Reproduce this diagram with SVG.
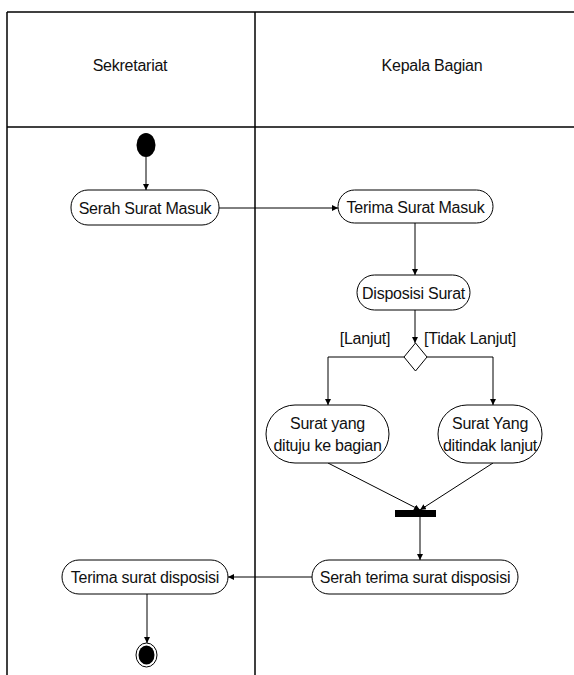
<svg xmlns="http://www.w3.org/2000/svg" width="574" height="675" viewBox="0 0 574 675">
<defs>
<marker id="arr" viewBox="0 0 10 10" refX="10" refY="5" markerWidth="6" markerHeight="6" orient="auto" markerUnits="userSpaceOnUse">
<path d="M0,0 L10,5 L0,10 z" fill="#000"/>
</marker>
</defs>
<style>
text{font-family:"Liberation Sans",Arial,sans-serif;font-size:16px;letter-spacing:-0.25px;fill:#111;text-anchor:middle}
.act{fill:#fff;stroke:#000;stroke-width:1}
.lane{stroke:#000;stroke-width:1.5;fill:none}
.con line,.con polyline{stroke:#000;stroke-width:1;fill:none;marker-end:url(#arr)}
</style>
<rect width="574" height="675" fill="#fff"/>
<g id="lanes">
<line class="lane" x1="7" y1="12" x2="574" y2="12"/>
<line class="lane" x1="7" y1="127" x2="574" y2="127"/>
<line class="lane" x1="7" y1="12" x2="7" y2="675"/>
<line class="lane" x1="255" y1="12" x2="255" y2="675"/>
<text x="130" y="71">Sekretariat</text>
<text x="432" y="71">Kepala Bagian</text>
</g>
<g class="con" id="connectors">
<line x1="146" y1="157" x2="146" y2="190"/>
<line x1="219" y1="208" x2="338" y2="208"/>
<line x1="415" y1="223" x2="415" y2="275"/>
<line x1="415" y1="310" x2="415" y2="343"/>
<polyline points="404,357 328,357 328,405"/>
<polyline points="427,357 493,357 493,405"/>
<line x1="328" y1="463" x2="420" y2="510"/>
<line x1="493" y1="463" x2="420" y2="510"/>
<line x1="420" y1="517" x2="420" y2="560"/>
<line x1="312" y1="577" x2="228" y2="577"/>
<line x1="147" y1="594" x2="147" y2="643"/>
</g>
<g id="start"><ellipse cx="146" cy="145" rx="9.5" ry="12" fill="#000"/></g>
<g id="serah-surat-masuk"><rect class="act" x="71" y="190" width="148" height="35" rx="17"/><text x="145" y="213.5">Serah Surat Masuk</text></g>
<g id="terima-surat-masuk"><rect class="act" x="338" y="190" width="155" height="33" rx="16.5"/><text x="415.5" y="212.5">Terima Surat Masuk</text></g>
<g id="disposisi-surat"><rect class="act" x="357" y="275" width="113" height="35" rx="17.5"/><text x="413.5" y="298.5">Disposisi Surat</text></g>
<g id="decision"><polygon points="415.5,343 427,357 415.5,371 404,357" fill="#fff" stroke="#000"/></g>
<g id="labels"><text x="365" y="344">[Lanjut]</text><text x="470" y="344">[Tidak Lanjut]</text></g>
<g id="surat-dituju"><rect class="act" x="266" y="405" width="123" height="58" rx="29"/><text x="327.5" y="429">Surat yang</text><text x="327.5" y="451">dituju ke bagian</text></g>
<g id="surat-ditindak"><rect class="act" x="438" y="405" width="104" height="58" rx="29"/><text x="490" y="429">Surat Yang</text><text x="490" y="451">ditindak lanjut</text></g>
<g id="join"><rect x="395" y="510" width="41" height="7" fill="#000"/></g>
<g id="serah-terima"><rect class="act" x="312" y="560" width="206" height="34" rx="17"/><text x="415" y="583">Serah terima surat disposisi</text></g>
<g id="terima-disposisi"><rect class="act" x="62" y="560" width="166" height="34" rx="17"/><text x="145" y="583">Terima surat disposisi</text></g>
<g id="end"><ellipse cx="146.5" cy="655" rx="10.5" ry="12" fill="#fff" stroke="#000" stroke-width="1"/><ellipse cx="146.5" cy="655" rx="8" ry="9.5" fill="#000"/></g>
</svg>
